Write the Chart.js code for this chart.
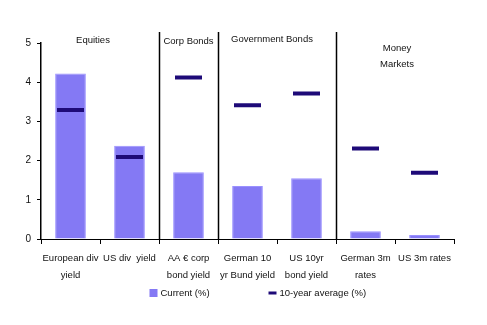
<!DOCTYPE html>
<html>
<head>
<meta charset="utf-8">
<script src="https://cdn.jsdelivr.net/npm/chart.js@4"></script>
<style>
  html, body { margin: 0; padding: 0; background: #fff; }
  #wrap { width: 487px; height: 325px; position: relative; }
</style>
</head>
<body>
<div id="wrap"><canvas id="yieldChart"></canvas></div>
<script>
// yields, %
const categories = [
  ['European div', 'yield'],
  'US div  yield',
  ['AA € corp', 'bond yield'],
  ['German 10', 'yr Bund yield'],
  ['US 10yr', 'bond yield'],
  ['German 3m', 'rates'],
  'US 3m rates'
];
const current = [4.22, 2.38, 1.70, 1.35, 1.55, 0.20, 0.10];
const tenYearAvg = [3.29, 2.09, 4.12, 3.41, 3.71, 2.31, 1.69];
const yTicks = [0, 1, 2, 3, 4, 5];

// section headers: label lines + first/last category index
const groups = [
  { label: ['Equities'], from: 0, to: 1, dx: -7, dy: 0 },
  { label: ['Corp Bonds'], from: 2, to: 2, dx: 0, dy: 1 },
  { label: ['Government Bonds'], from: 3, to: 4, dx: -5, dy: -1 },
  { label: ['Money', 'Markets'], from: 5, to: 6, dx: 2, dy: 8 }
];

const FONT = 'Liberation Sans, Arial, sans-serif';
const FS = 9.5;
const BAR = '#8479f4';
const AVG = '#1e0a78';

// vertical separators between sections and the header text above them
const sectionsPlugin = {
  id: 'sections',
  afterDatasetsDraw(chart) {
    const { ctx, chartArea, scales: { x } } = chart;
    const step = x.getPixelForValue(1) - x.getPixelForValue(0);
    ctx.save();
    ctx.strokeStyle = '#000';
    ctx.lineWidth = 1.5;
    groups.slice(1).forEach(g => {
      const px = Math.round(x.getPixelForValue(g.from) - step / 2) + 0.5;
      ctx.beginPath();
      ctx.moveTo(px, chartArea.top - 11);
      ctx.lineTo(px, chartArea.bottom);
      ctx.stroke();
    });
    ctx.fillStyle = '#111';
    ctx.font = FS + 'px ' + FONT;
    ctx.textAlign = 'center';
    ctx.textBaseline = 'middle';
    groups.forEach(g => {
      const cx = (x.getPixelForValue(g.from) + x.getPixelForValue(g.to)) / 2 + g.dx;
      g.label.forEach((line, i) => {
        ctx.fillText(line, cx, chartArea.top - 3 + g.dy + i * 16);
      });
    });
    ctx.restore();
  }
};

// legend row under the category labels
const legendPlugin = {
  id: 'legendRow',
  afterDraw(chart) {
    const { ctx, chartArea } = chart;
    const ds = chart.data.datasets;
    const y = 293;
    const startX = (chartArea.left + chartArea.right) / 2 - 98;
    ctx.save();
    ctx.font = FS + 'px ' + FONT;
    ctx.textBaseline = 'middle';
    ctx.fillStyle = ds[0].backgroundColor;
    ctx.fillRect(startX, y - 4, 8, 8);
    ctx.fillStyle = '#111';
    ctx.fillText(ds[0].label, startX + 11, y);
    const lx = startX + 119;
    ctx.strokeStyle = ds[1].borderColor;
    ctx.lineWidth = 3;
    ctx.beginPath();
    ctx.moveTo(lx, y);
    ctx.lineTo(lx + 8, y);
    ctx.stroke();
    ctx.fillText(ds[1].label, lx + 11, y);
    ctx.restore();
  }
};

new Chart(document.getElementById('yieldChart'), {
  type: 'bar',
  data: {
    labels: categories,
    datasets: [
      {
        label: 'Current (%)',
        data: current,
        backgroundColor: BAR,
        borderColor: '#9a90ff',
        borderWidth: 1,
        barPercentage: 0.52,
        categoryPercentage: 1,
        order: 2
      },
      {
        type: 'line',
        label: '10-year average (%)',
        data: tenYearAvg,
        showLine: false,
        pointStyle: 'line',
        pointRadius: 13.5,
        pointHoverRadius: 13.5,
        pointBorderWidth: 4,
        pointHoverBorderWidth: 4,
        borderColor: AVG,
        backgroundColor: AVG,
        order: 1
      }
    ]
  },
  options: {
    responsive: true,
    maintainAspectRatio: false,
    animation: false,
    layout: { padding: { left: 0, right: 33, top: 43, bottom: 0 } },
    plugins: {
      legend: { display: false },
      tooltip: { enabled: false }
    },
    scales: {
      x: {
        grid: { offset: true, drawOnChartArea: false, tickLength: 5, color: '#000' },
        border: { display: true, color: '#000', width: 1 },
        ticks: {
          color: '#111',
          font: { family: FONT, size: FS, lineHeight: 1.75 },
          padding: 6,
          maxRotation: 0,
          autoSkip: false
        },
        afterFit(scale) { scale.height = 86; }
      },
      y: {
        min: 0,
        max: 5,
        afterBuildTicks(scale) { scale.ticks = yTicks.map(v => ({ value: v })); },
        grid: { drawOnChartArea: false, tickLength: 4, color: '#000' },
        border: { display: true, color: '#000', width: 1.5 },
        ticks: {
          color: '#111',
          font: { family: FONT, size: FS + 0.5 },
          padding: 6
        },
        afterFit(scale) { scale.width = 41; }
      }
    }
  },
  plugins: [sectionsPlugin, legendPlugin]
});
</script>
</body>
</html>
